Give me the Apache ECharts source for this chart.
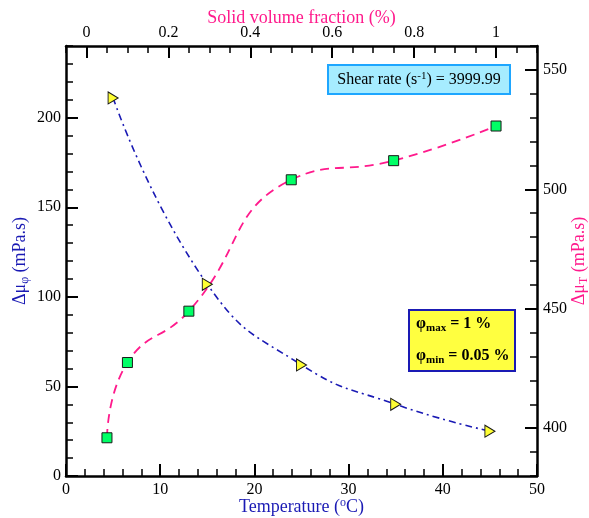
<!DOCTYPE html>
<html>
<head>
<meta charset="utf-8">
<script src="https://cdn.jsdelivr.net/npm/echarts@6/dist/echarts.min.js"></script>
<style>
  html, body { margin: 0; padding: 0; background: #fff; }
  #chart { width: 589px; height: 518px; }
</style>
</head>
<body>
<div id="chart"></div>
<script>
// Δμφ against temperature (bottom / left axes)
const temperature = [5, 15, 25, 35, 45];
const deltaMuPhi = [211, 107, 62, 40, 25];

// Δμ_T against solid volume fraction (top / right axes)
const volumeFraction = [0.05, 0.1, 0.25, 0.5, 0.75, 1];
const deltaMuT = [396, 427.5, 449, 504, 512, 526.5];

// Major tick labels
const temperatureTicks = [0, 10, 20, 30, 40, 50];
const fractionTicks = [0, 0.2, 0.4, 0.6, 0.8, 1];
const leftTicks = [0, 50, 100, 150, 200];
const rightTicks = [400, 450, 500, 550];

const FONT = 'Liberation Serif';
const BLUE = '#1a1ab4';
const PINK = '#ff1a8c';

const lineStyleMajor = { color: '#000', width: 2.5 };

function majorAxis(cfg) {
  return {
    type: 'value',
    position: cfg.position,
    min: cfg.min,
    max: cfg.max,
    name: cfg.name,
    nameLocation: 'middle',
    nameGap: cfg.nameGap,
    nameRotate: cfg.nameRotate,
    nameMoveOverlap: false,
    nameTextStyle: {
      fontFamily: FONT, fontSize: 18, color: cfg.color,
      rich: {
        a: { fontFamily: FONT, fontSize: 18, color: cfg.color },
        sub: { fontFamily: FONT, fontSize: 12, color: cfg.color, padding: [9, 0, 0, 0] },
        sup: { fontFamily: FONT, fontSize: 12, color: cfg.color, padding: [0, 0, 9, 0] }
      }
    },
    axisLine: { show: true, onZero: false, lineStyle: lineStyleMajor },
    axisTick: { show: true, inside: true, length: 12, customValues: cfg.ticks, lineStyle: { color: '#000', width: 2 } },
    axisLabel: {
      show: true, customValues: cfg.ticks, margin: cfg.margin,
      fontFamily: FONT, fontSize: 16, color: '#000',
      formatter: v => String(v)
    },
    splitLine: { show: false }
  };
}

function minorAxis(cfg) {
  return {
    type: 'value',
    position: cfg.position,
    min: cfg.min,
    max: cfg.max,
    interval: cfg.interval,
    axisLine: { show: false, onZero: false },
    axisTick: { show: true, inside: true, length: 7, lineStyle: { color: '#000', width: 1.5 } },
    axisLabel: { show: false },
    splitLine: { show: false }
  };
}

const chart = echarts.init(document.getElementById('chart'), null, { renderer: 'canvas' });

chart.setOption({
  animation: false,
  backgroundColor: '#fff',
  grid: { left: 66, right: 52, top: 46, bottom: 42, containLabel: false, outerBoundsMode: 'none' },
  xAxis: [
    majorAxis({ position: 'bottom', min: 0, max: 50, ticks: temperatureTicks, margin: 6,
      name: '{a|Temperature (}{sup|o}{a|C)}', nameGap: 21, color: BLUE }),
    majorAxis({ position: 'top', min: -0.05, max: 1.1, ticks: fractionTicks, margin: 5,
      name: '{a|Solid volume fraction (%)}', nameGap: 19, color: PINK }),
    minorAxis({ position: 'bottom', min: 0, max: 50, interval: 2 }),
    minorAxis({ position: 'top', min: -0.05, max: 1.1, interval: 0.05 })
  ],
  yAxis: [
    majorAxis({ position: 'left', min: 0, max: 240, ticks: leftTicks, margin: 5,
      name: '{a|Δμ}{sub|φ}{a| (mPa.s)}', nameGap: 35, nameRotate: 90, color: BLUE }),
    majorAxis({ position: 'right', min: 380, max: 560, ticks: rightTicks, margin: 6,
      name: '{a|Δμ}{sub|T}{a| (mPa.s)}', nameGap: 32, nameRotate: 90, color: PINK }),
    minorAxis({ position: 'left', min: 0, max: 240, interval: 10 }),
    minorAxis({ position: 'right', min: 380, max: 560, interval: 10 })
  ],
  series: [
    {
      name: 'deltaMuT',
      type: 'line',
      xAxisIndex: 1,
      yAxisIndex: 1,
      smooth: 0.5,
      data: volumeFraction.map((x, i) => [x, deltaMuT[i]]),
      lineStyle: { color: PINK, width: 1.8, type: [9, 6] },
      symbol: 'rect',
      symbolSize: 10,
      itemStyle: { color: '#00ff66', borderColor: '#1a1a1a', borderWidth: 1 },
      z: 3
    },
    {
      name: 'deltaMuPhi',
      type: 'line',
      xAxisIndex: 0,
      yAxisIndex: 0,
      smooth: 0.5,
      data: temperature.map((x, i) => [x, deltaMuPhi[i]]),
      lineStyle: { color: BLUE, width: 1.6, type: [7, 4, 2, 4] },
      symbol: 'triangle',
      symbolRotate: -90,
      symbolSize: [12, 10],
      itemStyle: { color: '#ffff33', borderColor: '#1a1a1a', borderWidth: 1 },
      z: 4
    }
  ],
  graphic: [
    {
      type: 'rect', x: 328, y: 65, z: 10,
      shape: { width: 182, height: 29 },
      style: { fill: '#a6ecff', stroke: '#1ea6ff', lineWidth: 2 }
    },
    {
      type: 'text', x: 419, y: 80, z: 11,
      style: {
        text: '{a|Shear rate (s}{sup|-1}{a|) = 3999.99}',
        align: 'center', verticalAlign: 'middle',
        rich: {
          a: { fontFamily: FONT, fontSize: 16, fill: '#000' },
          sup: { fontFamily: FONT, fontSize: 11, fill: '#000', padding: [0, 0, 8, 0] }
        }
      }
    },
    {
      type: 'rect', x: 409, y: 310, z: 10,
      shape: { width: 106, height: 61 },
      style: { fill: '#ffff40', stroke: BLUE, lineWidth: 2 }
    },
    {
      type: 'text', x: 416, y: 324, z: 11,
      style: {
        text: '{p|φ}{s|max}{p| = 1 %}',
        align: 'left', verticalAlign: 'middle',
        rich: {
          p: { fontFamily: FONT, fontSize: 16, fontWeight: 'bold', fill: '#000' },
          s: { fontFamily: FONT, fontSize: 11, fontWeight: 'bold', fill: '#000', padding: [9, 0, 0, 0] }
        }
      }
    },
    {
      type: 'text', x: 416, y: 356, z: 11,
      style: {
        text: '{p|φ}{s|min}{p| = 0.05 %}',
        align: 'left', verticalAlign: 'middle',
        rich: {
          p: { fontFamily: FONT, fontSize: 16, fontWeight: 'bold', fill: '#000' },
          s: { fontFamily: FONT, fontSize: 11, fontWeight: 'bold', fill: '#000', padding: [9, 0, 0, 0] }
        }
      }
    }
  ]
});
</script>
</body>
</html>
